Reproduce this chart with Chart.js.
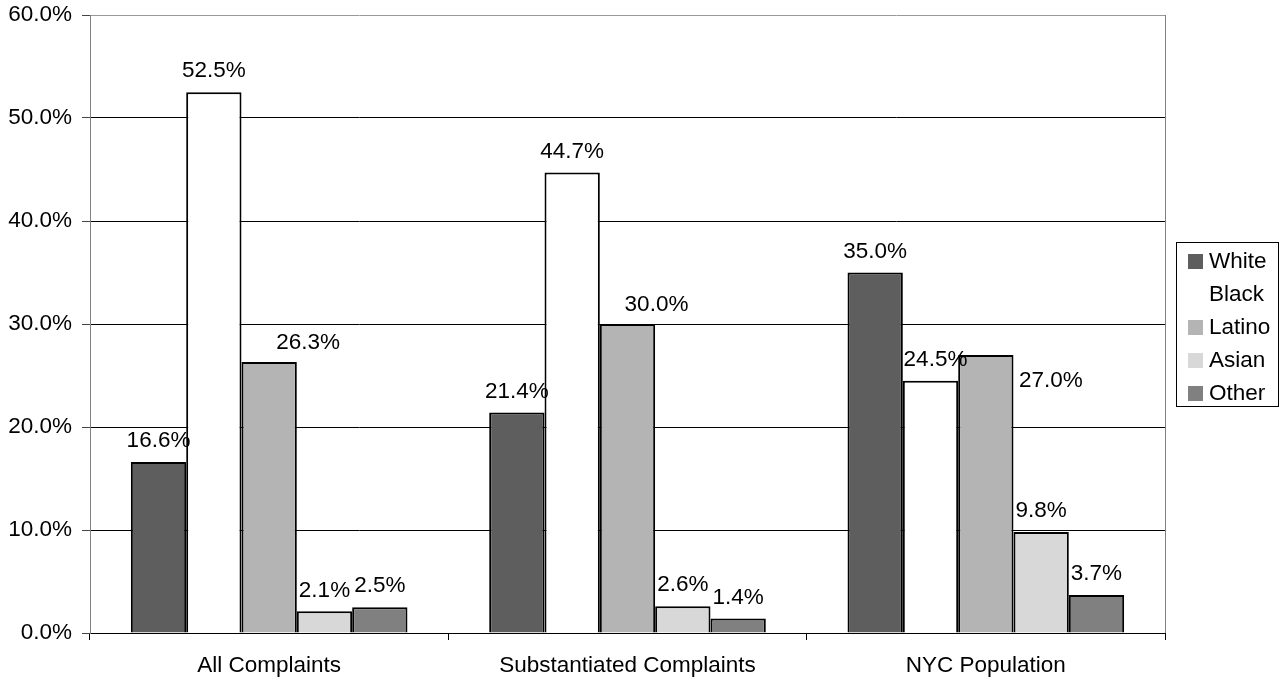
<!DOCTYPE html>
<html>
<head>
<meta charset="utf-8">
<script src="https://cdn.jsdelivr.net/npm/chart.js@4/dist/chart.umd.min.js"></script>
<style>
  html, body { margin: 0; padding: 0; background: #fff; }
  #wrap { position: relative; width: 1281px; height: 681px; }
  #legend {
    position: absolute; left: 1176px; top: 242px; width: 101px; height: 163px;
    border: 1px solid #000; font: 22.5px "Liberation Sans", Arial, sans-serif; color: #000;
  }
  .item { position: absolute; left: 11px; height: 26px; line-height: 26px; white-space: nowrap; }
  .sw { display: inline-block; width: 15px; height: 15px; margin-right: 6px; vertical-align: -1px; }
</style>
</head>
<body>
<div id="wrap">
  <canvas id="chart" width="1281" height="681"></canvas>
  <div id="legend"></div>
</div>
<script>
// chart data
const categories = ['All Complaints', 'Substantiated Complaints', 'NYC Population'];
const white  = [16.6, 21.4, 35.0];
const black  = [52.5, 44.7, 24.5];
const latino = [26.3, 30.0, 27.0];
const asian  = [2.1, 2.6, 9.8];
const other  = [2.5, 1.4, 3.7];
const yTicks = [0, 10, 20, 30, 40, 50, 60];

const FONT = '"Liberation Sans", Arial, sans-serif';
const FSIZE = 22.5;

// label nudges (px) for the few labels Excel left off-centre
const labelShift = {
  Latino: { 0: [39, 2], 1: [29, 2], 2: [65, 47] },
  Black:  { 2: [5, 0] },
};

const series = [
  { label: 'White',  data: white,  color: '#5e5e5e' },
  { label: 'Black',  data: black,  color: '#ffffff' },
  { label: 'Latino', data: latino, color: '#b4b4b4' },
  { label: 'Asian',  data: asian,  color: '#d8d8d8' },
  { label: 'Other',  data: other,  color: '#808080' },
];

const barLabels = {
  id: 'barLabels',
  afterDatasetsDraw(chart) {
    const ctx = chart.ctx;
    ctx.save();
    ctx.font = FSIZE + 'px ' + FONT;
    ctx.fillStyle = '#000';
    ctx.textAlign = 'center';
    ctx.textBaseline = 'middle';
    chart.data.datasets.forEach((ds, i) => {
      chart.getDatasetMeta(i).data.forEach((bar, j) => {
        const s = (labelShift[ds.label] || {})[j] || [0, 0];
        ctx.fillText(ds.data[j].toFixed(1) + '%', bar.x + s[0], bar.y - 21 + s[1]);
      });
    });
    ctx.restore();
  }
};

const frame = {
  id: 'frame',
  afterDraw(chart) {
    const { ctx, chartArea: a } = chart;
    ctx.save();
    ctx.strokeStyle = '#808080';
    ctx.lineWidth = 1;
    ctx.beginPath();
    ctx.moveTo(Math.round(a.right) + 0.5, a.top);
    ctx.lineTo(Math.round(a.right) + 0.5, a.bottom);
    ctx.stroke();
    ctx.restore();
  }
};

new Chart(document.getElementById('chart'), {
  type: 'bar',
  data: {
    labels: categories,
    datasets: series.map(s => ({
      label: s.label,
      data: s.data,
      backgroundColor: s.color,
      borderColor: '#000',
      borderWidth: 2,
      categoryPercentage: 0.772,
      barPercentage: 1.0,
    })),
  },
  options: {
    responsive: false,
    animation: false,
    layout: { padding: { left: 0, right: 116, top: 15, bottom: 0 } },
    plugins: { legend: { display: false }, tooltip: { enabled: false } },
    scales: {
      x: {
        afterFit: s => { s.height = 48; s.paddingLeft = 0; s.paddingRight = 0; },
        grid: { offset: true, drawOnChartArea: false, color: '#000', tickLength: 7 },
        border: { color: '#000' },
        ticks: { color: '#000', font: { family: FONT, size: FSIZE }, padding: 12, maxRotation: 0 },
      },
      y: {
        min: 0, max: 60,
        afterFit: s => { s.width = 90; s.paddingTop = 0; s.paddingBottom = 0; },
        afterBuildTicks: s => { s.ticks = yTicks.map(v => ({ value: v })); },
        grid: {
          color: c => (c.tick && c.tick.value === 60 ? '#999' : '#000'),
          tickColor: '#444',
          tickLength: 8,
        },
        border: { color: '#808080' },
        ticks: {
          color: '#000', font: { family: FONT, size: FSIZE }, padding: 10,
          callback: v => v.toFixed(1) + '%',
        },
      },
    },
  },
  plugins: [barLabels, frame],
});

// legend
const leg = document.getElementById('legend');
series.forEach((s, i) => {
  const d = document.createElement('div');
  d.className = 'item';
  d.style.top = (5 + i * 33) + 'px';
  d.innerHTML = '<span class="sw" style="background:' + s.color + '"></span>' + s.label;
  leg.appendChild(d);
});
</script>
</body>
</html>
